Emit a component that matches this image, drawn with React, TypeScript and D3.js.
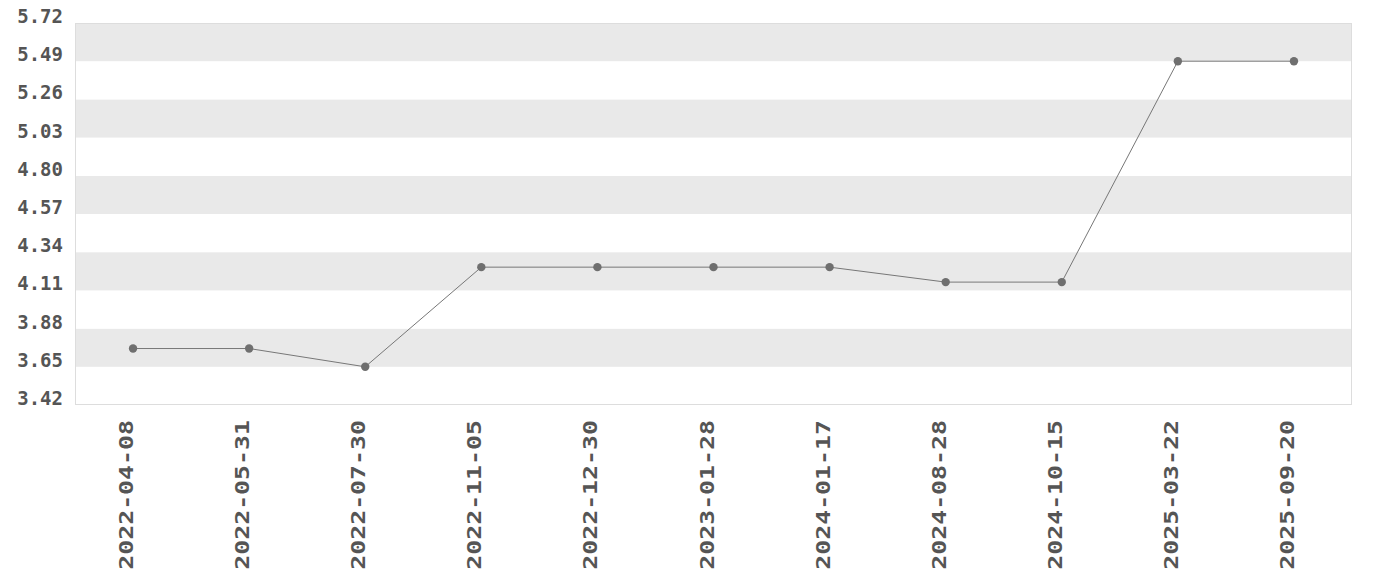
import React from 'react';
import * as d3 from 'd3';

const dates = [
  '2022-04-08', '2022-05-31', '2022-07-30', '2022-11-05', '2022-12-30', '2023-01-28',
  '2024-01-17', '2024-08-28', '2024-10-15', '2025-03-22', '2025-09-20',
];
const values = [3.76, 3.76, 3.65, 4.25, 4.25, 4.25, 4.25, 4.16, 4.16, 5.49, 5.49];
const yTicks = [3.42, 3.65, 3.88, 4.11, 4.34, 4.57, 4.8, 5.03, 5.26, 5.49, 5.72];

const W = 1380;
const H = 580;
const margin = { top: 23, right: 28, bottom: 175, left: 75 };
const FONT = '"DejaVu Sans Mono", monospace';

const App: React.FC = () => {
  const innerW = W - margin.left - margin.right;
  const innerH = H - margin.top - margin.bottom;

  const x = d3.scalePoint<string>().domain(dates).range([0, innerW]).padding(0.5);
  const y = d3.scaleLinear().domain([3.42, 5.72]).range([innerH, 0]);

  const data = dates.map((d, i) => ({ date: d, value: values[i] }));
  const line = d3.line<{ date: string; value: number }>()
    .x(d => x(d.date) as number)
    .y(d => y(d.value));

  // alternating bands between ticks, gray starting at the top
  const bands = d3.range(yTicks.length - 1).map(i => ({
    lo: yTicks[i],
    hi: yTicks[i + 1],
    gray: (yTicks.length - 2 - i) % 2 === 0,
  }));

  return (
    <svg width={W} height={H} style={{ position: 'absolute', left: 0, top: 0 }}>
      <g transform={`translate(${margin.left},${margin.top})`}>
        {bands.map((b, i) => (
          <rect key={i} x={0} y={y(b.hi)} width={innerW} height={y(b.lo) - y(b.hi)}
            fill={b.gray ? '#e9e9e9' : '#ffffff'} />
        ))}
        <rect x={0.5} y={0.5} width={innerW - 1} height={innerH - 1} fill="none" stroke="#dddddd" />

        {yTicks.map(t => (
          <text key={t} x={-12} y={y(t)} textAnchor="end" fontFamily={FONT} fontWeight="bold"
            fontSize={19} fill="#555555">
            {t.toFixed(2)}
          </text>
        ))}

        {dates.map(d => (
          <text key={d} transform={`translate(${x(d)},${innerH + 15}) rotate(-90) scale(1.31,1)`}
            textAnchor="end" fontFamily={FONT} fontWeight="bold" fontSize={19}
            fill="#555555">
            {d}
          </text>
        ))}

        <path d={line(data) || ''} fill="none" stroke="#777777" strokeWidth={1} />
        {data.map(d => (
          <circle key={d.date} cx={x(d.date)} cy={y(d.value)} r={4.2} fill="#6f6f6f" />
        ))}
      </g>
    </svg>
  );
};

export default App;
